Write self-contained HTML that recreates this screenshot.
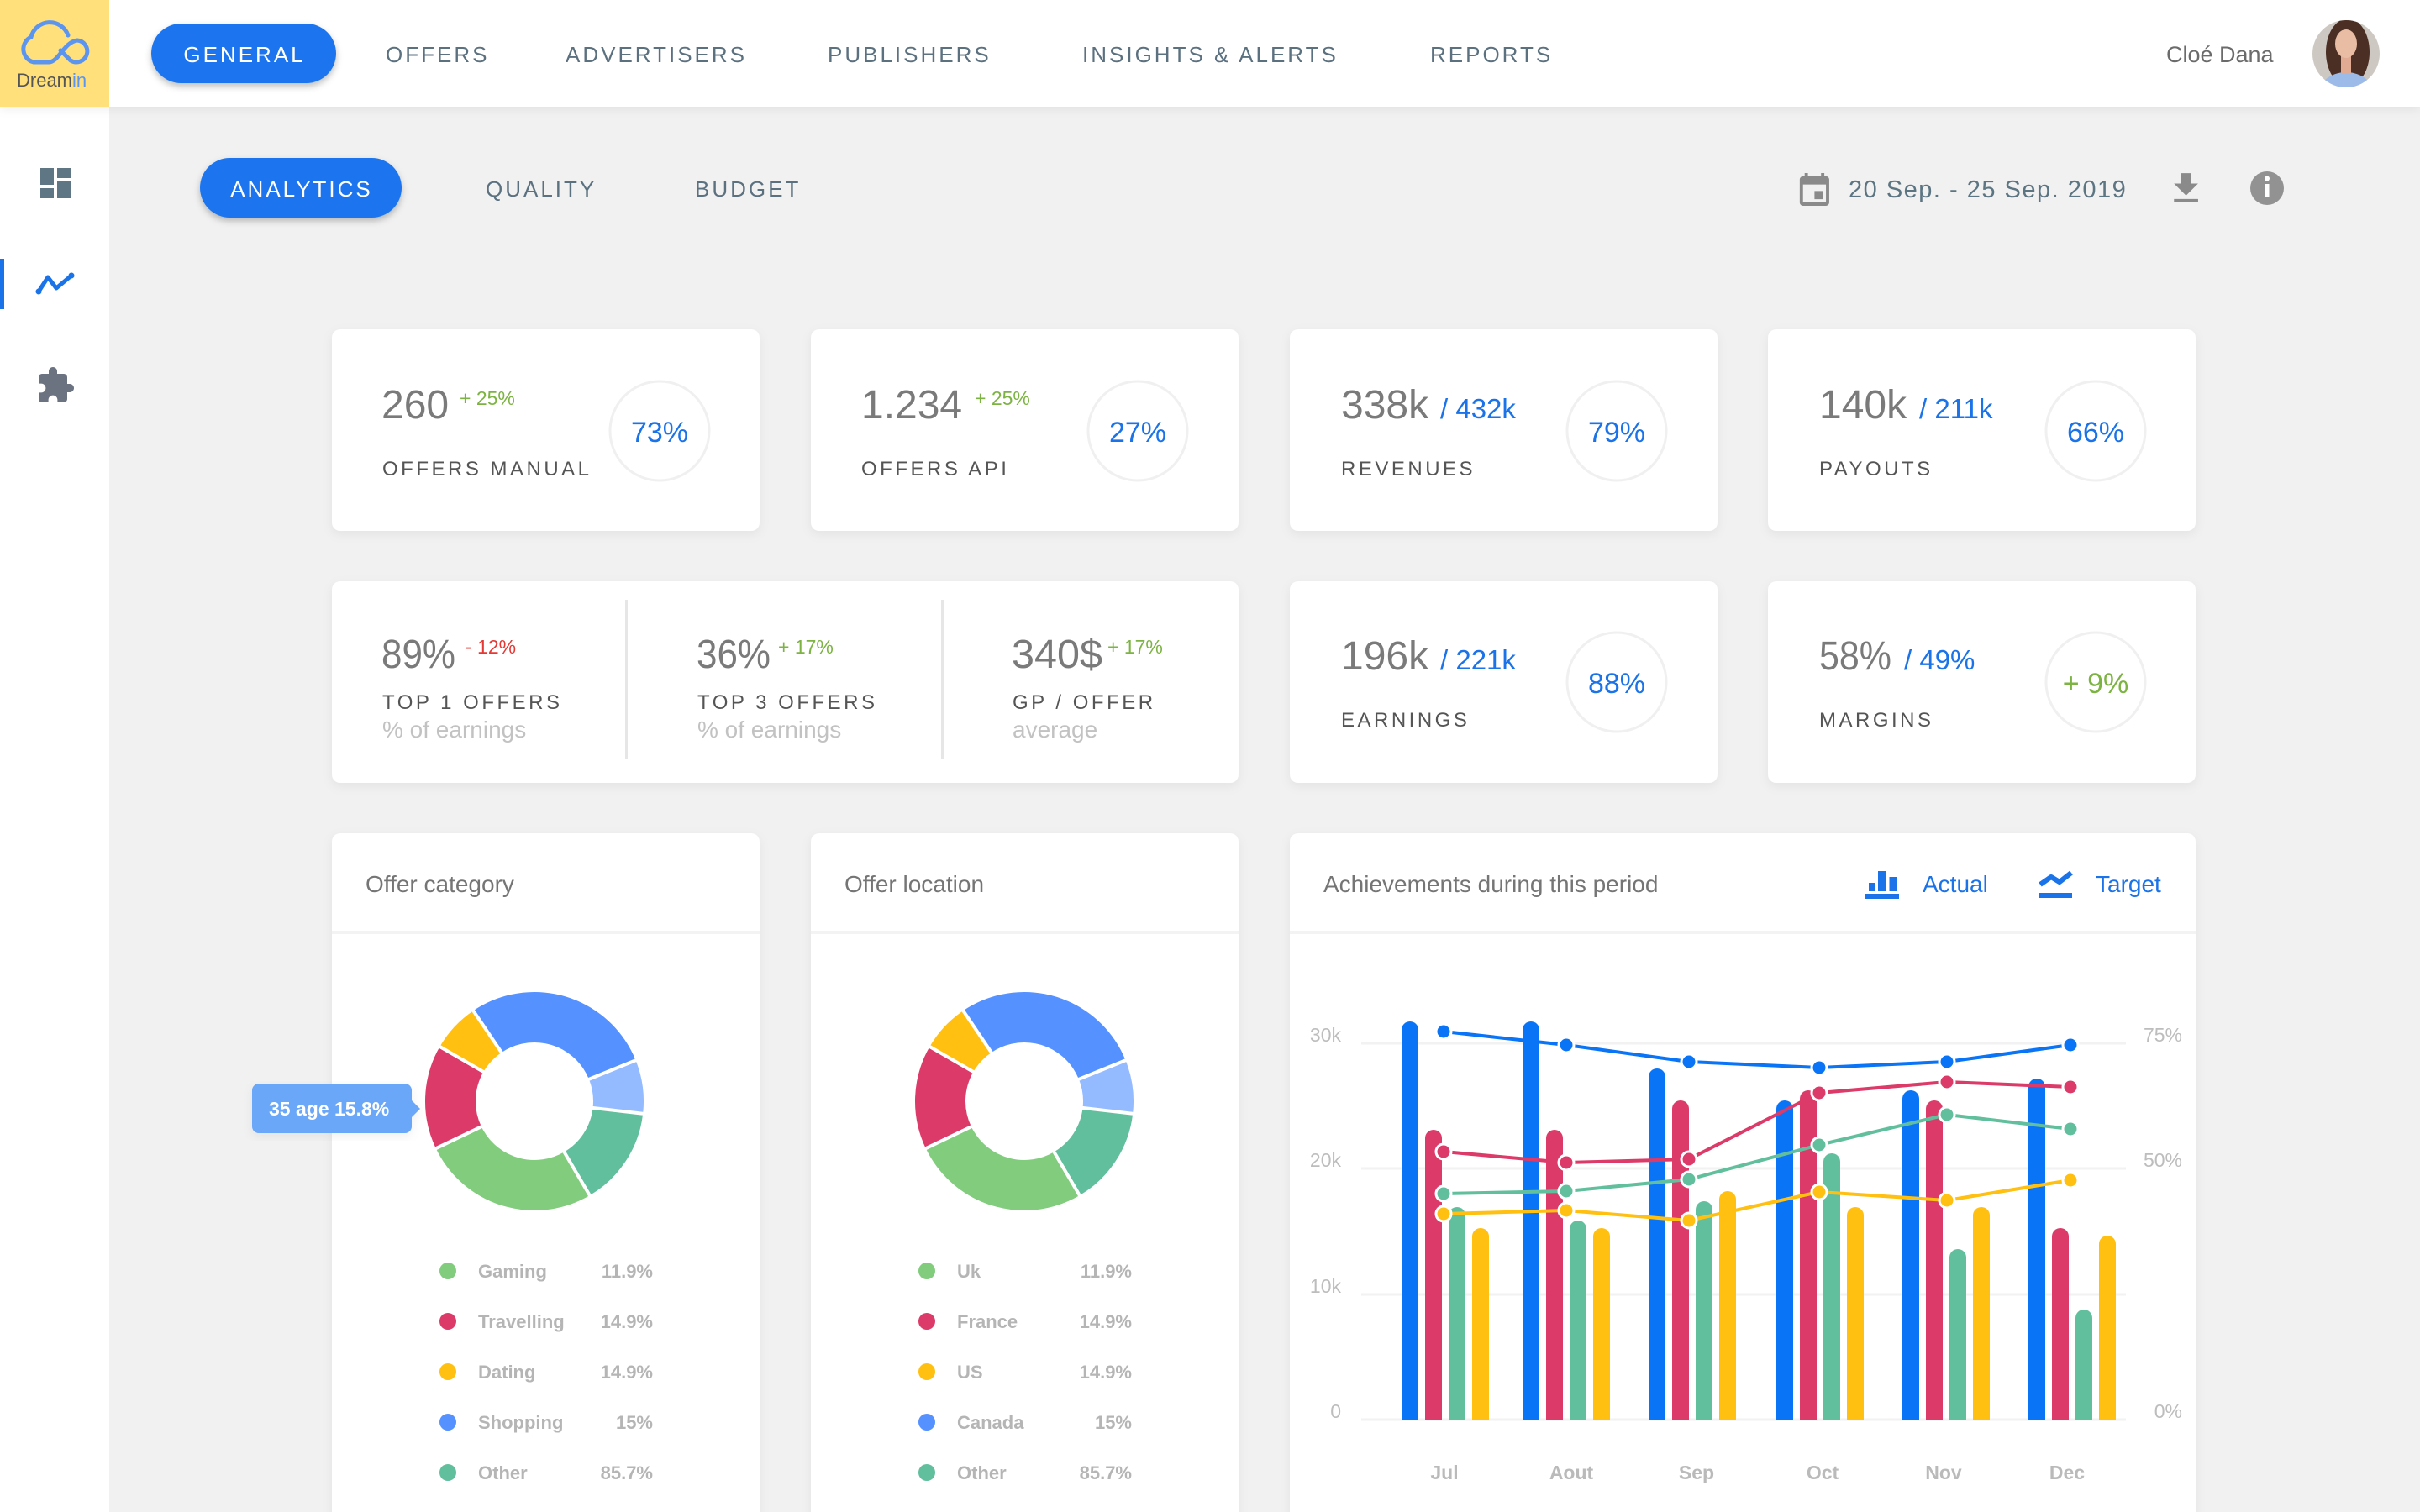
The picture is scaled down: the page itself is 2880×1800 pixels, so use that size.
<!DOCTYPE html>
<html><head><meta charset="utf-8"><style>
html,body{margin:0;padding:0;background:#f1f1f1;width:2880px;height:1800px;overflow:hidden}
svg{display:block}
text{font-family:"Liberation Sans",Arial,sans-serif}
.nav{font-size:26px;letter-spacing:3px;fill:#5c7180}
.num{font-size:48px;fill:#7a7a7a}
.up{font-size:23px;fill:#7cb342}
.dn{font-size:23px;fill:#e53935}
.lbl{font-size:24px;letter-spacing:3.5px;fill:#555}
.sub{font-size:28px;fill:#c2c2c2}
.pct{font-size:34px;fill:#1a73e8}
.sec{font-size:33px;fill:#1a73e8}
.ttl{font-size:28px;fill:#757575}
.leg{font-size:22px;font-weight:bold;fill:#b5b5b5}
.ax{font-size:23px;fill:#bdbdbd}
.mo{font-size:23px;font-weight:bold;fill:#bababa}
</style></head><body>
<svg width="2880" height="1800" viewBox="0 0 2880 1800" xmlns="http://www.w3.org/2000/svg">
<defs>
<filter id="sh" x="-5%" y="-5%" width="110%" height="120%"><feDropShadow dx="0" dy="4" stdDeviation="6" flood-color="#000" flood-opacity="0.06"/></filter>
<filter id="hs" x="-1%" y="-20%" width="102%" height="150%"><feDropShadow dx="0" dy="2" stdDeviation="6" flood-color="#000" flood-opacity="0.08"/></filter>
<filter id="ps" x="-10%" y="-20%" width="120%" height="160%"><feDropShadow dx="0" dy="4" stdDeviation="4" flood-color="#000" flood-opacity="0.25"/></filter>
<clipPath id="av"><circle cx="2792" cy="64" r="40"/></clipPath>
</defs>
<rect x="0" y="0" width="2880" height="1800" fill="#f1f1f1"/>
<!-- sidebar -->
<rect x="0" y="0" width="130" height="1800" fill="#fff"/>
<!-- header -->
<rect x="0" y="0" width="2880" height="127" fill="#fff" filter="url(#hs)"/>
<rect x="0" y="0" width="130" height="127" fill="#ffe07b"/>
<g fill="none" stroke="#5b95f0" stroke-width="5" stroke-linecap="round">
<path d="M58 74 L40 74 A16 16 0 0 1 37 44 A23 23 0 0 1 81 42"/>
<path d="M58 74 C70 74 76 50 92 48 A13 13 0 1 1 84 72 L72 60"/>
</g>
<text x="20" y="103" font-size="22" fill="#555">Dream<tspan fill="#5b95f0">in</tspan></text>

<rect x="180" y="28" width="220" height="71" rx="35.5" fill="#1a75ee" filter="url(#ps)"/>
<text x="291" y="74" text-anchor="middle" class="nav" style="fill:#fff">GENERAL</text>
<text x="459" y="74" class="nav">OFFERS</text>
<text x="673" y="74" class="nav">ADVERTISERS</text>
<text x="985" y="74" class="nav">PUBLISHERS</text>
<text x="1288" y="74" class="nav">INSIGHTS &amp; ALERTS</text>
<text x="1702" y="74" class="nav">REPORTS</text>
<text x="2578" y="74" font-size="27" fill="#6b6b6b">Cloé Dana</text>
<g clip-path="url(#av)">
<rect x="2750" y="20" width="90" height="90" fill="#cdc8c2"/>
<ellipse cx="2794" cy="62" rx="26" ry="40" fill="#4b2f24"/>
<ellipse cx="2792" cy="114" rx="34" ry="28" fill="#9dbbe8"/>
<rect x="2786" y="66" width="12" height="22" fill="#e0ab92"/>
<ellipse cx="2792" cy="52" rx="13" ry="17" fill="#e9bca4"/>
</g>

<!-- sidebar icons -->
<g transform="translate(42,194) scale(2)" fill="#5f7785">
<rect x="3" y="3" width="8" height="10"/><rect x="13" y="3" width="8" height="6"/><rect x="3" y="15" width="8" height="6"/><rect x="13" y="11" width="8" height="10"/>
</g>
<rect x="0" y="308" width="5" height="60" fill="#1a73e8"/>
<polyline points="46,347 57,330 67,343 85,328" fill="none" stroke="#1a73e8" stroke-width="5" stroke-linejoin="round" stroke-linecap="round"/>
<circle cx="46" cy="347" r="3.5" fill="#1a73e8"/><circle cx="85" cy="328" r="3.5" fill="#1a73e8"/>
<path transform="translate(42,435) scale(2)" fill="#6b7280" d="M20.5 11H19V7c0-1.1-.9-2-2-2h-4V3.5C13 2.12 11.880 1 10.5 1S8 2.12 8 3.5V5H4c-1.1 0-1.99.9-1.99 2v3.8H3.5c1.49 0 2.7 1.21 2.7 2.7s-1.21 2.7-2.7 2.7H2V20c0 1.1.9 2 2 2h3.8v-1.5c0-1.490 1.210-2.7 2.7-2.7 1.49 0 2.7 1.21 2.7 2.7V22H17c1.1 0 2-.9 2-2v-4h1.5c1.38 0 2.5-1.12 2.5-2.5S21.88 11 20.5 11z"/>

<!-- sub nav -->
<rect x="238" y="188" width="240" height="71" rx="35.5" fill="#1a75ee" filter="url(#ps)"/>
<text x="359" y="234" text-anchor="middle" class="nav" style="fill:#fff">ANALYTICS</text>
<text x="578" y="234" class="nav">QUALITY</text>
<text x="827" y="234" class="nav">BUDGET</text>
<path transform="translate(2136,204) scale(1.95)" fill="#8a8a8a" d="M17 12h-5v5h5v-5zM16 1v2H8V1H6v2H5c-1.11 0-1.99.9-1.99 2L3 19c0 1.1.89 2 2 2h14c1.1 0 2-.9 2-2V5c0-1.1-.9-2-2-2h-1V1h-2zm3 18H5V8h14v11z"/>
<text x="2200" y="235" font-size="29" letter-spacing="1.5" fill="#5c7582">20 Sep. - 25 Sep. 2019</text>
<path transform="translate(2577,200) scale(2.05)" fill="#8a8a8a" d="M19 9h-4V3H9v6H5l7 7 7-7zM5 18v2h14v-2H5z"/>
<circle cx="2698" cy="224" r="20" fill="#929292"/>
<rect x="2695.5" y="219" width="5" height="15" fill="#fff"/><circle cx="2698" cy="212.5" r="3" fill="#fff"/>

<!-- KPI cards -->
<g filter="url(#sh)" fill="#fff">
<rect x="395" y="392" width="509" height="240" rx="10"/>
<rect x="965" y="392" width="509" height="240" rx="10"/>
<rect x="1535" y="392" width="509" height="240" rx="10"/>
<rect x="2104" y="392" width="509" height="240" rx="10"/>
<rect x="395" y="692" width="1079" height="240" rx="10"/>
<rect x="1535" y="692" width="509" height="240" rx="10"/>
<rect x="2104" y="692" width="509" height="240" rx="10"/>
<rect x="395" y="992" width="509" height="840" rx="10"/>
<rect x="965" y="992" width="509" height="840" rx="10"/>
<rect x="1535" y="992" width="1078" height="840" rx="10"/>
</g>
<g fill="none" stroke="#f0f0f0" stroke-width="3">
<circle cx="785" cy="513" r="59"/><circle cx="1354" cy="513" r="59"/><circle cx="1924" cy="513" r="59"/><circle cx="2494" cy="513" r="59"/>
<circle cx="1924" cy="812" r="59"/><circle cx="2494" cy="812" r="59"/>
</g>
<text x="454" y="498" class="num">260</text><text x="547" y="482" class="up">+ 25%</text>
<text x="455" y="566" class="lbl">OFFERS MANUAL</text>
<text x="785" y="526" text-anchor="middle" class="pct">73%</text>

<text x="1025" y="498" class="num">1.234</text><text x="1160" y="482" class="up">+ 25%</text>
<text x="1025" y="566" class="lbl">OFFERS API</text>
<text x="1354" y="526" text-anchor="middle" class="pct">27%</text>

<text x="1596" y="498" class="num">338k</text><text x="1714" y="498" class="sec">/ 432k</text>
<text x="1596" y="566" class="lbl">REVENUES</text>
<text x="1924" y="526" text-anchor="middle" class="pct">79%</text>

<text x="2165" y="498" class="num">140k</text><text x="2284" y="498" class="sec">/ 211k</text>
<text x="2165" y="566" class="lbl">PAYOUTS</text>
<text x="2494" y="526" text-anchor="middle" class="pct">66%</text>

<!-- KPI row 2 -->
<text x="454" y="795" class="num" textLength="88" lengthAdjust="spacingAndGlyphs">89%</text><text x="554" y="778" class="dn">- 12%</text>
<text x="455" y="844" class="lbl">TOP 1 OFFERS</text><text x="455" y="878" class="sub">% of earnings</text>
<rect x="744" y="714" width="3" height="190" fill="#e6e6e6"/>
<text x="829" y="795" class="num" textLength="88" lengthAdjust="spacingAndGlyphs">36%</text><text x="926" y="778" class="up">+ 17%</text>
<text x="830" y="844" class="lbl">TOP 3 OFFERS</text><text x="830" y="878" class="sub">% of earnings</text>
<rect x="1120" y="714" width="3" height="190" fill="#e6e6e6"/>
<text x="1204" y="795" class="num" textLength="108" lengthAdjust="spacingAndGlyphs">340$</text><text x="1318" y="778" class="up">+ 17%</text>
<text x="1205" y="844" class="lbl">GP / OFFER</text><text x="1205" y="878" class="sub">average</text>

<text x="1596" y="797" class="num">196k</text><text x="1714" y="797" class="sec">/ 221k</text>
<text x="1596" y="865" class="lbl">EARNINGS</text>
<text x="1924" y="825" text-anchor="middle" class="pct">88%</text>

<text x="2165" y="797" class="num" textLength="86" lengthAdjust="spacingAndGlyphs">58%</text><text x="2266" y="797" class="sec">/ 49%</text>
<text x="2165" y="865" class="lbl">MARGINS</text>
<text x="2494" y="825" text-anchor="middle" class="pct" style="fill:#7cb342">+ 9%</text>

<!-- row 3 headers -->
<g fill="#f3f3f3">
<rect x="395" y="1108" width="509" height="4"/><rect x="965" y="1108" width="509" height="4"/><rect x="1535" y="1108" width="1078" height="4"/>
</g>
<text x="435" y="1062" class="ttl">Offer category</text>
<text x="1005" y="1062" class="ttl">Offer location</text>
<text x="1575" y="1062" class="ttl">Achievements during this period</text>
<g fill="#1a73e8">
<rect x="2224" y="1051" width="8" height="10"/><rect x="2235" y="1037" width="9.5" height="24"/><rect x="2248.5" y="1044" width="8.5" height="17"/>
<rect x="2220" y="1064" width="40" height="6"/>
<rect x="2427" y="1063" width="39" height="6"/>
</g>
<polyline points="2428,1053 2441,1044 2451,1050 2465,1039" fill="none" stroke="#1a73e8" stroke-width="6" stroke-linejoin="round"/>
<text x="2288" y="1062" font-size="28" fill="#1a73e8">Actual</text>
<text x="2494" y="1062" font-size="28" fill="#1a73e8">Target</text>

<!-- donut 1 -->
<g fill="none" stroke-width="60">
<circle cx="636" cy="1311" r="100" stroke="#5591ff" stroke-dasharray="178.0 1000" transform="rotate(236 636 1311)"/>
<circle cx="636" cy="1311" r="100" stroke="#94bbff" stroke-dasharray="49.7 1000" transform="rotate(-22 636 1311)"/>
<circle cx="636" cy="1311" r="100" stroke="#62bf9e" stroke-dasharray="92.7 1000" transform="rotate(6.5 636 1311)"/>
<circle cx="636" cy="1311" r="100" stroke="#82cc7e" stroke-dasharray="165.5 1000" transform="rotate(59.6 636 1311)"/>
<circle cx="636" cy="1311" r="100" stroke="#dc3a68" stroke-dasharray="97.0 1000" transform="rotate(154.4 636 1311)"/>
<circle cx="636" cy="1311" r="100" stroke="#ffc012" stroke-dasharray="45.4 1000" transform="rotate(210 636 1311)"/>
</g>
<g stroke="#fff" stroke-width="4">
<line x1="636" y1="1311" x2="560.5" y2="1199.1"/><line x1="636" y1="1311" x2="761.2" y2="1260.4"/><line x1="636" y1="1311" x2="770.1" y2="1326.3"/>
<line x1="636" y1="1311" x2="704.3" y2="1427.4"/><line x1="636" y1="1311" x2="514.3" y2="1369.3"/><line x1="636" y1="1311" x2="519.1" y2="1243.5"/>
</g>
<!-- donut 2 -->
<g fill="none" stroke-width="60">
<circle cx="1219" cy="1311" r="100" stroke="#5591ff" stroke-dasharray="178.0 1000" transform="rotate(236 1219 1311)"/>
<circle cx="1219" cy="1311" r="100" stroke="#94bbff" stroke-dasharray="49.7 1000" transform="rotate(-22 1219 1311)"/>
<circle cx="1219" cy="1311" r="100" stroke="#62bf9e" stroke-dasharray="92.7 1000" transform="rotate(6.5 1219 1311)"/>
<circle cx="1219" cy="1311" r="100" stroke="#82cc7e" stroke-dasharray="165.5 1000" transform="rotate(59.6 1219 1311)"/>
<circle cx="1219" cy="1311" r="100" stroke="#dc3a68" stroke-dasharray="97.0 1000" transform="rotate(154.4 1219 1311)"/>
<circle cx="1219" cy="1311" r="100" stroke="#ffc012" stroke-dasharray="45.4 1000" transform="rotate(210 1219 1311)"/>
</g>
<g stroke="#fff" stroke-width="4">
<line x1="1219" y1="1311" x2="1143.5" y2="1199.1"/><line x1="1219" y1="1311" x2="1344.2" y2="1260.4"/><line x1="1219" y1="1311" x2="1353.1" y2="1326.3"/>
<line x1="1219" y1="1311" x2="1287.3" y2="1427.4"/><line x1="1219" y1="1311" x2="1097.3" y2="1369.3"/><line x1="1219" y1="1311" x2="1102.1" y2="1243.5"/>
</g>
<!-- tooltip -->
<g filter="url(#sh)">
<rect x="300" y="1290" width="190" height="59" rx="8" fill="#6aa7f8"/>
<polygon points="489,1309 500,1320 489,1331" fill="#6aa7f8"/>
</g>
<text x="320" y="1328" font-size="23" font-weight="bold" fill="#fff">35 age 15.8%</text>

<!-- legends -->
<g>
<circle cx="533" cy="1513" r="10" fill="#82cc7e"/><circle cx="533" cy="1573" r="10" fill="#dc3a68"/><circle cx="533" cy="1633" r="10" fill="#ffc012"/><circle cx="533" cy="1693" r="10" fill="#5591ff"/><circle cx="533" cy="1753" r="10" fill="#62bf9e"/>
<text x="569" y="1521" class="leg">Gaming</text><text x="569" y="1581" class="leg">Travelling</text><text x="569" y="1641" class="leg">Dating</text><text x="569" y="1701" class="leg">Shopping</text><text x="569" y="1761" class="leg">Other</text>
<text x="777" y="1521" text-anchor="end" class="leg">11.9%</text><text x="777" y="1581" text-anchor="end" class="leg">14.9%</text><text x="777" y="1641" text-anchor="end" class="leg">14.9%</text><text x="777" y="1701" text-anchor="end" class="leg">15%</text><text x="777" y="1761" text-anchor="end" class="leg">85.7%</text>
</g>
<g>
<circle cx="1103" cy="1513" r="10" fill="#82cc7e"/><circle cx="1103" cy="1573" r="10" fill="#dc3a68"/><circle cx="1103" cy="1633" r="10" fill="#ffc012"/><circle cx="1103" cy="1693" r="10" fill="#5591ff"/><circle cx="1103" cy="1753" r="10" fill="#62bf9e"/>
<text x="1139" y="1521" class="leg">Uk</text><text x="1139" y="1581" class="leg">France</text><text x="1139" y="1641" class="leg">US</text><text x="1139" y="1701" class="leg">Canada</text><text x="1139" y="1761" class="leg">Other</text>
<text x="1347" y="1521" text-anchor="end" class="leg">11.9%</text><text x="1347" y="1581" text-anchor="end" class="leg">14.9%</text><text x="1347" y="1641" text-anchor="end" class="leg">14.9%</text><text x="1347" y="1701" text-anchor="end" class="leg">15%</text><text x="1347" y="1761" text-anchor="end" class="leg">85.7%</text>
</g>

<!-- bar chart -->
<g stroke="#f2f2f2" stroke-width="3">
<line x1="1620" y1="1242" x2="2530" y2="1242"/><line x1="1620" y1="1391" x2="2530" y2="1391"/><line x1="1620" y1="1541" x2="2530" y2="1541"/><line x1="1620" y1="1690" x2="2530" y2="1690"/>
</g>
<text x="1596" y="1240" text-anchor="end" class="ax">30k</text><text x="1596" y="1389" text-anchor="end" class="ax">20k</text><text x="1596" y="1539" text-anchor="end" class="ax">10k</text><text x="1596" y="1688" text-anchor="end" class="ax">0</text>
<text x="2597" y="1240" text-anchor="end" class="ax">75%</text><text x="2597" y="1389" text-anchor="end" class="ax">50%</text><text x="2597" y="1688" text-anchor="end" class="ax">0%</text>
<g fill="#0a74f7">
<path d="M1668 1691V1226A10 10 0 0 1 1688 1226V1691Z"/>
<path d="M1812 1691V1226A10 10 0 0 1 1832 1226V1691Z"/>
<path d="M1962 1691V1282A10 10 0 0 1 1982 1282V1691Z"/>
<path d="M2114 1691V1320A10 10 0 0 1 2134 1320V1691Z"/>
<path d="M2264 1691V1308A10 10 0 0 1 2284 1308V1691Z"/>
<path d="M2414 1691V1294A10 10 0 0 1 2434 1294V1691Z"/>
</g>
<g fill="#dc3a68">
<path d="M1696 1691V1355A10 10 0 0 1 1716 1355V1691Z"/>
<path d="M1840 1691V1355A10 10 0 0 1 1860 1355V1691Z"/>
<path d="M1990 1691V1320A10 10 0 0 1 2010 1320V1691Z"/>
<path d="M2142 1691V1308A10 10 0 0 1 2162 1308V1691Z"/>
<path d="M2292 1691V1320A10 10 0 0 1 2312 1320V1691Z"/>
<path d="M2442 1691V1472A10 10 0 0 1 2462 1472V1691Z"/>
</g>
<g fill="#62bf9e">
<path d="M1724 1691V1447A10 10 0 0 1 1744 1447V1691Z"/>
<path d="M1868 1691V1463A10 10 0 0 1 1888 1463V1691Z"/>
<path d="M2018 1691V1440A10 10 0 0 1 2038 1440V1691Z"/>
<path d="M2170 1691V1383A10 10 0 0 1 2190 1383V1691Z"/>
<path d="M2320 1691V1497A10 10 0 0 1 2340 1497V1691Z"/>
<path d="M2470 1691V1569A10 10 0 0 1 2490 1569V1691Z"/>
</g>
<g fill="#ffc012">
<path d="M1752 1691V1472A10 10 0 0 1 1772 1472V1691Z"/>
<path d="M1896 1691V1472A10 10 0 0 1 1916 1472V1691Z"/>
<path d="M2046 1691V1428A10 10 0 0 1 2066 1428V1691Z"/>
<path d="M2198 1691V1447A10 10 0 0 1 2218 1447V1691Z"/>
<path d="M2348 1691V1447A10 10 0 0 1 2368 1447V1691Z"/>
<path d="M2498 1691V1481A10 10 0 0 1 2518 1481V1691Z"/>
</g>
<g fill="none" stroke-width="4" stroke-linejoin="round">
<polyline stroke="#0a74f7" points="1718,1228 1864,1244 2010,1264 2165,1271 2317,1264 2464,1244"/>
<polyline stroke="#dc3a68" points="1718,1371 1864,1384 2010,1380 2165,1301 2317,1288 2464,1294"/>
<polyline stroke="#62bf9e" points="1718,1421 1864,1418 2010,1404 2165,1363 2317,1327 2464,1344"/>
<polyline stroke="#ffc012" points="1718,1445 1864,1441 2010,1453 2165,1419 2317,1429 2464,1405"/>
</g>
<g stroke="#fff" stroke-width="3">
<g fill="#0a74f7"><circle cx="1718" cy="1228" r="9"/><circle cx="1864" cy="1244" r="9"/><circle cx="2010" cy="1264" r="9"/><circle cx="2165" cy="1271" r="9"/><circle cx="2317" cy="1264" r="9"/><circle cx="2464" cy="1244" r="9"/></g>
<g fill="#dc3a68"><circle cx="1718" cy="1371" r="9"/><circle cx="1864" cy="1384" r="9"/><circle cx="2010" cy="1380" r="9"/><circle cx="2165" cy="1301" r="9"/><circle cx="2317" cy="1288" r="9"/><circle cx="2464" cy="1294" r="9"/></g>
<g fill="#62bf9e"><circle cx="1718" cy="1421" r="9"/><circle cx="1864" cy="1418" r="9"/><circle cx="2010" cy="1404" r="9"/><circle cx="2165" cy="1363" r="9"/><circle cx="2317" cy="1327" r="9"/><circle cx="2464" cy="1344" r="9"/></g>
<g fill="#ffc012"><circle cx="1718" cy="1445" r="9"/><circle cx="1864" cy="1441" r="9"/><circle cx="2010" cy="1453" r="9"/><circle cx="2165" cy="1419" r="9"/><circle cx="2317" cy="1429" r="9"/><circle cx="2464" cy="1405" r="9"/></g>
</g>
<g text-anchor="middle">
<text x="1719" y="1761" class="mo">Jul</text><text x="1870" y="1761" class="mo">Aout</text><text x="2019" y="1761" class="mo">Sep</text><text x="2169" y="1761" class="mo">Oct</text><text x="2313" y="1761" class="mo">Nov</text><text x="2460" y="1761" class="mo">Dec</text>
</g>
</svg>
</body></html>
